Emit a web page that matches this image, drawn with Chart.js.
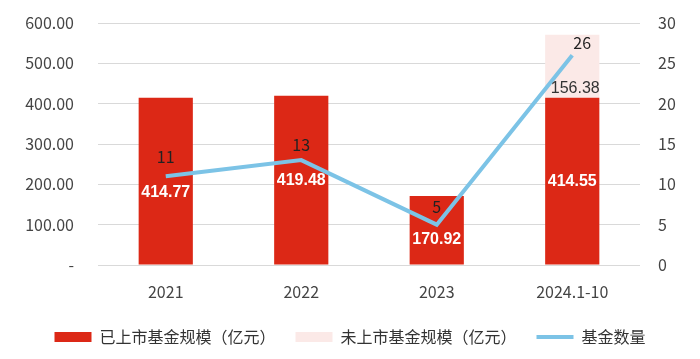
<!DOCTYPE html>
<html>
<head>
<meta charset="utf-8">
<script src="https://cdn.jsdelivr.net/npm/chart.js@4/dist/chart.umd.min.js"></script>
<style>
  html, body { margin: 0; padding: 0; background: #fff; }
  #wrap { width: 700px; height: 359px; }
</style>
</head>
<body>
<div id="wrap"><canvas id="fundChart" width="700" height="359"></canvas></div>
<script>
// chart data
var years = ["2021", "2022", "2023", "2024.1-10"];
var listedScale = [414.77, 419.48, 170.92, 414.55];
var unlistedScale = [null, null, null, 156.38];
var fundCount = [11, 13, 5, 26];
var leftTicks = [0, 100, 200, 300, 400, 500, 600];
var rightTicks = [0, 5, 10, 15, 20, 25, 30];

var cnFont = "'Noto Sans CJK SC', 'Noto Sans', sans-serif";
var numFont = "'Liberation Sans', Arial, sans-serif";

// small nudges so labels sit where the original has them
var barLabelShift = [11, 0, 9, 0];
var countLabelShift = [[0, -19], [0, -15], [0, -18], [10, -12]];

var labelPlugin = {
    id: "valueLabels",
    afterDatasetsDraw: function (chart) {
        var ctx = chart.ctx;
        ctx.save();
        ctx.textAlign = "center";
        ctx.textBaseline = "middle";

        // listed scale, white in the bar
        chart.getDatasetMeta(0).data.forEach(function (bar, i) {
            if (listedScale[i] == null) return;
            ctx.font = "bold 16px " + numFont;
            ctx.fillStyle = "#ffffff";
            ctx.fillText(listedScale[i].toFixed(2), bar.x, (bar.y + bar.base) / 2 + barLabelShift[i]);
        });

        // unlisted scale, dark just above the red part
        chart.getDatasetMeta(1).data.forEach(function (bar, i) {
            if (unlistedScale[i] == null) return;
            ctx.font = "16px " + numFont;
            ctx.fillStyle = "#333333";
            ctx.fillText(unlistedScale[i].toFixed(2), bar.x + 3, bar.base - 9);
        });

        // fund count
        chart.getDatasetMeta(2).data.forEach(function (pt, i) {
            ctx.font = "16px " + cnFont;
            ctx.fillStyle = "#222222";
            ctx.fillText(String(fundCount[i]), pt.x + countLabelShift[i][0], pt.y + countLabelShift[i][1]);
        });
        ctx.restore();
    }
};

var ctx = document.getElementById("fundChart").getContext("2d");
new Chart(ctx, {
    type: "bar",
    data: {
        labels: years,
        datasets: [
            {
                label: "已上市基金规模（亿元）",
                data: listedScale,
                backgroundColor: "#dc2816",
                borderWidth: 0,
                yAxisID: "y",
                stack: "scale",
                order: 1,
                pointStyle: "rect"
            },
            {
                label: "未上市基金规模（亿元）",
                data: unlistedScale,
                backgroundColor: "#fbe9e7",
                borderWidth: 0,
                yAxisID: "y",
                stack: "scale",
                order: 1,
                pointStyle: "rect"
            },
            {
                type: "line",
                label: "基金数量",
                data: fundCount,
                borderColor: "#7cc3e6",
                backgroundColor: "#7cc3e6",
                borderWidth: 4,
                pointRadius: 0,
                tension: 0,
                yAxisID: "y1",
                order: 0,
                pointStyle: "line"
            }
        ]
    },
    options: {
        responsive: false,
        animation: false,
        layout: { padding: { top: 23, bottom: 4 } },
        datasets: {
            bar: { categoryPercentage: 1.0, barPercentage: 0.4 }
        },
        scales: {
            x: {
                stacked: true,
                grid: { display: false },
                border: { display: false },
                ticks: {
                    color: "#444",
                    padding: 9,
                    font: { family: cnFont, size: 16 }
                },
                afterFit: function (scale) { scale.height = 44; }
            },
            y: {
                stacked: true,
                position: "left",
                min: 0,
                max: 600,
                // invisible tick marks push the labels out without adding top padding
                grid: { color: "#d9d9d9", tickColor: "rgba(0,0,0,0)", drawTicks: true, tickLength: 21 },
                border: { display: false },
                afterBuildTicks: function (scale) {
                    scale.ticks = leftTicks.map(function (v) { return { value: v }; });
                },
                ticks: {
                    color: "#444",
                    padding: 3,
                    font: { family: cnFont, size: 16 },
                    callback: function (v) { return v === 0 ? "-" : v.toFixed(2); }
                },
                afterFit: function (scale) { scale.width = 98; }
            },
            y1: {
                position: "right",
                min: 0,
                max: 30,
                grid: { drawOnChartArea: false, color: "rgba(0,0,0,0)", drawTicks: true, tickLength: 15 },
                border: { display: false },
                afterBuildTicks: function (scale) {
                    scale.ticks = rightTicks.map(function (v) { return { value: v }; });
                },
                ticks: {
                    color: "#444",
                    padding: 3,
                    font: { family: cnFont, size: 16 }
                },
                afterFit: function (scale) { scale.width = 60; }
            }
        },
        plugins: {
            tooltip: { enabled: false },
            legend: {
                position: "bottom",
                labels: {
                    usePointStyle: true,
                    pointStyleWidth: 37,
                    boxHeight: 10,
                    padding: 20,
                    color: "#333",
                    font: { family: cnFont, size: 16 },
                    sort: function (a, b) { return a.datasetIndex - b.datasetIndex; }
                }
            }
        }
    },
    plugins: [labelPlugin]
});
</script>
</body>
</html>
